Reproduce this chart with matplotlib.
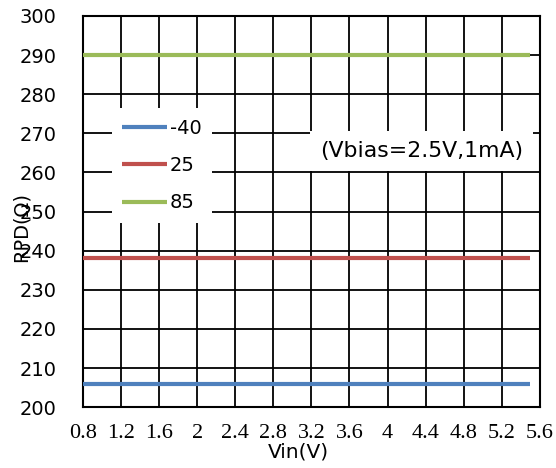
import matplotlib.pyplot as plt
import numpy as np

# Donnees
vin = [0.8, 5.5]
temps = ["-40", "25", "85"]
rpd = {"-40": [206, 206], "25": [238, 238], "85": [290, 290]}
colors = {"-40": "#4F81BD", "25": "#C0504D", "85": "#9BBB59"}
xticks = [0.8, 1.2, 1.6, 2, 2.4, 2.8, 3.2, 3.6, 4, 4.4, 4.8, 5.2, 5.6]
xtick_labels = ["0.8", "1.2", "1.6", "2", "2.4", "2.8", "3.2", "3.6", "4",
                "4.4", "4.8", "5.2", "5.6"]
yticks = np.arange(200, 301, 10)

fig = plt.figure(figsize=(5.56, 4.68), dpi=100)
ax = fig.add_axes([0.149, 0.130, 0.822, 0.836])

for t in temps:
    ax.plot(vin, rpd[t], color=colors[t], linewidth=3, label=t,
            solid_capstyle="butt", zorder=3)

ax.set_xlim(0.8, 5.6)
ax.set_ylim(200, 300)
ax.set_xticks(xticks)
ax.set_xticklabels(xtick_labels, family="Liberation Serif", fontsize=16)
ax.set_yticks(yticks)
ax.set_yticklabels([str(v) for v in yticks], family="DejaVu Sans",
                   fontsize=14)
ax.tick_params(axis="both", length=0)
ax.tick_params(axis="y", pad=19)
ax.tick_params(axis="x", pad=12)
ax.grid(True, color="black", linewidth=1.3, zorder=1)
ax.set_axisbelow(True)
for sp in ax.spines.values():
    sp.set_linewidth(1.5)

ax.set_xlabel("Vin(V)", family="DejaVu Sans", fontsize=14.5)
ax.xaxis.set_label_coords(0.472, -0.09)
ax.set_ylabel("RPD(Ω)", family="DejaVu Sans", fontsize=14)
ax.yaxis.set_label_coords(-0.115, 0.46)

leg = ax.legend(loc="upper left", bbox_to_anchor=(0.063, 0.765),
                frameon=True, fancybox=False, framealpha=1,
                edgecolor="none", facecolor="white",
                prop={"family": "DejaVu Sans", "size": 14},
                handlelength=2.3, handletextpad=0.15, labelspacing=0.95,
                borderpad=0.55, borderaxespad=0)
leg.set_zorder(4)

ax.text(0.963, 0.655, "(Vbias=2.5V,1mA)", transform=ax.transAxes,
        ha="right", va="center", family="DejaVu Sans", fontsize=15.8,
        bbox=dict(facecolor="white", edgecolor="none", pad=7), zorder=4)

fig.savefig("out.png", dpi=100)
